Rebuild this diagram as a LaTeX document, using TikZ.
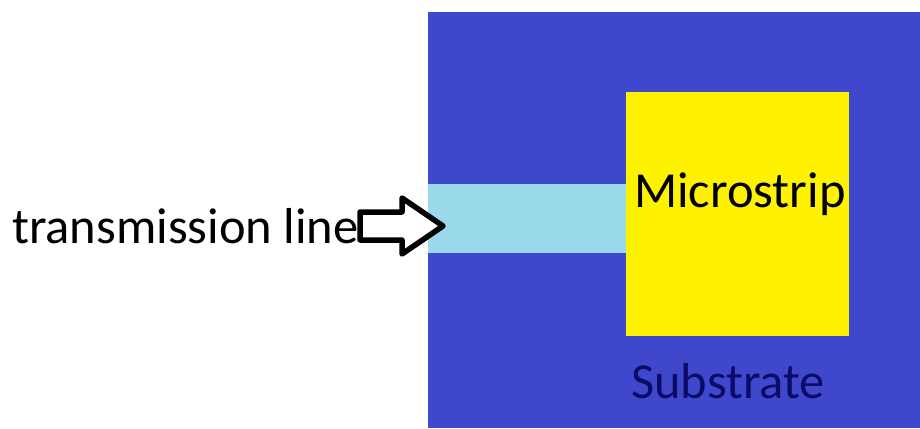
\documentclass[tikz,border=0pt]{standalone}
\usepackage{fontspec}
\setmainfont{Carlito}
\definecolor{substrateblue}{HTML}{3F48CC}
\definecolor{feedcyan}{HTML}{99D9EA}
\definecolor{patchyellow}{HTML}{FFF200}
\definecolor{labelnavy}{HTML}{0C0C66}
\begin{document}
\begin{tikzpicture}[x=1pt,y=-1pt,
  lbl/.style={inner sep=0pt,font=\fontsize{50.5}{60}\selectfont},
  block/.style={draw=none,inner sep=0pt,anchor=north west}]
\useasboundingbox[fill=white] (0,0) rectangle (920,428);
% substrate, feed line and radiating patch
\fill[substrateblue] (428,12) rectangle (920,428);
\fill[feedcyan] (428,184) rectangle (626,253);
\fill[patchyellow] (626,92) rectangle (849,336);
\node[block,minimum width=492pt,minimum height=416pt] (sub) at (428,12) {};
\node[block,minimum width=198pt,minimum height=69pt] (feed) at (428,184) {};
\node[block,minimum width=223pt,minimum height=244pt] (patch) at (626,92) {};
% labels
\node[lbl,anchor=base west] (tl) at (12,243) {transmission line};
\node[lbl,anchor=base west] (ms) at (634,207) {Microstrip};
\node[lbl,anchor=base west,text=labelnavy] (st) at (631,398) {Substrate};
% outlined block arrow from the label to the feed line
\coordinate (tail) at (360,226);
\coordinate (tip) at (443,226);
\draw[line width=5.5pt,line join=round,fill=white]
  (tail |- 0,212) -- (402,212) -- (402,198) -- (tip) -- (402,254)
  -- (402,240) -- (tail |- 0,240) -- cycle;
\end{tikzpicture}
\end{document}
